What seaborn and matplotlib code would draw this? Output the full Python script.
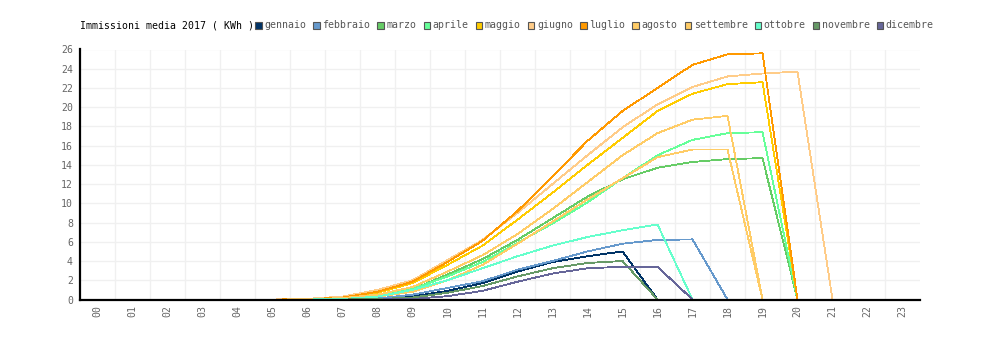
import matplotlib
matplotlib.use("Agg")
import matplotlib.pyplot as plt
from matplotlib.patches import Rectangle
import seaborn as sns
import pandas as pd

hours = list(range(24))
hour_labels = [f"{h:02d}" for h in hours]
y_ticks = list(range(0, 27, 2))

title = "Immissioni media 2017 ( KWh )"
months = ["gennaio", "febbraio", "marzo", "aprile", "maggio", "giugno",
          "luglio", "agosto", "settembre", "ottobre", "novembre", "dicembre"]
colors = ["#003366", "#6699CC", "#66CC66", "#66FF99", "#FFCC00", "#FFCC88",
          "#FF9900", "#FFCC66", "#FFCC66", "#66FFCC", "#669966", "#666699"]

gennaio   = [0, 0, 0, 0, 0, 0, 0, 0, 0.05, 0.3, 0.9, 1.7, 2.9, 3.9, 4.5, 5.0, 0, 0, 0, 0, 0, 0, 0, 0]
febbraio  = [0, 0, 0, 0, 0, 0, 0, 0, 0.1, 0.5, 1.2, 1.9, 3.1, 4.0, 5.0, 5.8, 6.2, 6.25, 0, 0, 0, 0, 0, 0]
marzo     = [0, 0, 0, 0, 0, 0, 0, 0.08, 0.35, 1.05, 2.6, 4.2, 6.2, 8.45, 10.7, 12.5, 13.7, 14.3, 14.6, 14.7, 0, 0, 0, 0]
aprile    = [0, 0, 0, 0, 0, 0, 0.02, 0.1, 0.4, 1.1, 2.4, 3.9, 5.9, 7.9, 10.1, 12.6, 15.0, 16.6, 17.3, 17.4, 0, 0, 0, 0]
maggio    = [0, 0, 0, 0, 0, 0, 0.05, 0.2, 0.7, 1.7, 3.6, 5.6, 8.3, 11.1, 14.0, 16.8, 19.6, 21.4, 22.4, 22.6, 0, 0, 0, 0]
giugno    = [0, 0, 0, 0, 0, 0, 0.07, 0.3, 1.0, 2.0, 4.1, 6.2, 9.0, 12.0, 15.0, 17.9, 20.3, 22.1, 23.2, 23.5, 23.7, 0, 0, 0]
luglio    = [0, 0, 0, 0, 0, 0, 0.03, 0.2, 0.8, 1.85, 3.9, 6.1, 9.2, 12.8, 16.5, 19.6, 22.0, 24.4, 25.5, 25.6, 0, 0, 0, 0]
agosto    = [0, 0, 0, 0, 0, 0, 0.02, 0.15, 0.5, 1.3, 2.9, 4.6, 6.8, 9.4, 12.2, 15.0, 17.3, 18.7, 19.1, 0, 0, 0, 0, 0]
settembre = [0, 0, 0, 0, 0, 0, 0, 0.05, 0.3, 0.8, 2.0, 3.6, 5.8, 8.1, 10.4, 12.6, 14.8, 15.6, 15.6, 0, 0, 0, 0, 0]
ottobre   = [0, 0, 0, 0, 0, 0, 0, 0.05, 0.3, 1.0, 2.0, 3.25, 4.5, 5.6, 6.5, 7.2, 7.8, 0, 0, 0, 0, 0, 0, 0]
novembre  = [0, 0, 0, 0, 0, 0, 0, 0, 0.05, 0.2, 0.7, 1.4, 2.4, 3.25, 3.8, 4.0, 0, 0, 0, 0, 0, 0, 0, 0]
dicembre  = [0, 0, 0, 0, 0, 0, 0, 0, 0, 0.05, 0.35, 0.9, 1.85, 2.7, 3.25, 3.4, 3.4, 0, 0, 0, 0, 0, 0, 0]

series = [gennaio, febbraio, marzo, aprile, maggio, giugno,
          luglio, agosto, settembre, ottobre, novembre, dicembre]

rows = []
for m, vals in zip(months, series):
    for h, v in zip(hours, vals):
        rows.append({"mese": m, "ora": h, "kwh": v})
df = pd.DataFrame(rows)

sns.set_theme(style="white")
plt.rcParams["font.family"] = ["DejaVu Sans Mono", "DejaVu Sans"]

W, H = 1000, 340
fig = plt.figure(figsize=(W / 100, H / 100), dpi=100)
ax = fig.add_axes([80 / W, 1 - 299.5 / H, 840 / W, 250 / H])

sns.lineplot(data=df, x="ora", y="kwh", hue="mese", hue_order=months,
             palette=dict(zip(months, colors)), linewidth=0.6,
             estimator=None, sort=False, legend=False, ax=ax,
             antialiased=False)

ax.set_xlim(-0.5, 23.5)
ax.set_ylim(0, 26)
ax.set_xticks(hours)
ax.set_xticklabels(hour_labels, rotation=90, fontsize=7.1, color="#666666")
ax.set_yticks(y_ticks)
ax.set_yticklabels([str(t) for t in y_ticks], fontsize=7.1, color="#666666")
ax.set_xticks([h + 0.5 for h in hours[:-1]], minor=True)
ax.tick_params(axis="both", which="both", length=0)
ax.tick_params(axis="x", pad=4)
ax.tick_params(axis="y", pad=5)
ax.grid(False)
ax.grid(True, axis="y", which="major", color="#f0f0f0", linewidth=1)
ax.grid(True, axis="x", which="minor", color="#f0f0f0", linewidth=1)
ax.set_axisbelow(True)
ax.set_xlabel("")
ax.set_ylabel("")
for s in ["top", "right"]:
    ax.spines[s].set_visible(False)
for s in ["left", "bottom"]:
    ax.spines[s].set_color("black")
    ax.spines[s].set_linewidth(1.6)
    ax.spines[s].set_zorder(5)

# header: title + legend row
fs = 7.1
yc = 1 - 25 / H
fig.text(80 / W, yc, title, fontsize=fs, color="black", va="center", ha="left")
x = 80 + len(title) * 5.95 + 2.5
for m, c in zip(months, colors):
    fig.patches.append(Rectangle((x / W, 1 - 28.5 / H), 6.5 / W, 6.5 / H,
                                 transform=fig.transFigure, facecolor=c,
                                 edgecolor="#555555", linewidth=0.8))
    fig.text((x + 9) / W, yc, m, fontsize=fs, color="#555555", va="center", ha="left")
    x = x + 9 + len(m) * 5.95 + 7.5

fig.savefig("out.png", dpi=100, facecolor="white")
